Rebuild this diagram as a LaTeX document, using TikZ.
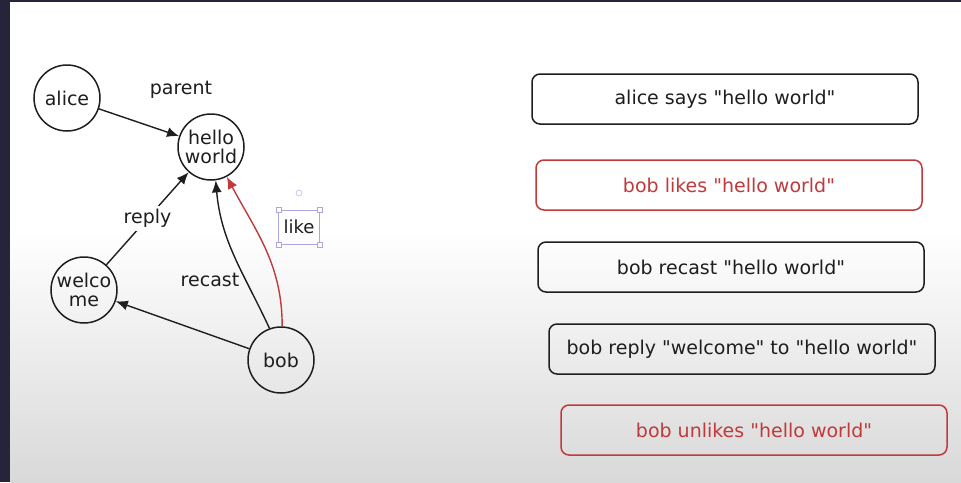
\documentclass[tikz,border=0pt]{standalone}
\usepackage{fontspec}
\setmainfont{DejaVu Sans}[Ligatures=TeXOff]
\usetikzlibrary{arrows.meta}

\definecolor{frame}{HTML}{25243A}
\definecolor{ink}{HTML}{1E1E1E}
\definecolor{likered}{HTML}{C0393B}
\definecolor{handle}{HTML}{A9A6E0}

\begin{document}
\begin{tikzpicture}[x=1pt, y=-1pt,
    post/.style={draw=ink, circle, line width=1.5pt, minimum size=66pt,
        inner sep=0pt, align=center, text=ink, font=\fontsize{19}{19}\selectfont},
    event/.style={draw=ink, rounded corners=8pt, line width=1.5pt,
        minimum width=386pt, minimum height=50pt, text=ink,
        font=\fontsize{19}{20}\selectfont},
    reltext/.style={text=ink, font=\fontsize{19}{20}\selectfont},
    link/.style={-{Latex[length=12pt, width=10pt]}, line width=1.4pt, ink},
    handlebox/.style={draw=handle, fill=white, minimum size=5pt, inner sep=0pt}]
    % background
    \useasboundingbox (0, 0) rectangle (961, 482);
    \fill[white] (0, 0) rectangle (961, 482);
    \shade[top color=white, bottom color=black!15] (10, 230) rectangle (961, 482);
    \fill[frame] (0, 0) rectangle (10, 482);
    \fill[frame] (0, 0) rectangle (961, 2);

    % graph of posts
    \node[post] (alice) at (67, 98) {alice};
    \node[post] (hello) at (211, 147) {hello\\world};
    \node[post] (welcome) at (84, 290) {welco\\me};
    \node[post] (bob) at (281, 360) {bob};
    \node[reltext] (parent) at (181, 90) {parent};
    \node[reltext] (recast-text) at (210, 280) {recast};

    \draw[link] (alice) -- (hello);
    \draw[link] (welcome) -- node[reltext, fill=white] {reply} (hello);
    \draw[link] (bob) -- (welcome);
    \draw[link] (bob.110) to[out=115, in=-85] (hello.-82);
    \draw[link, likered] (bob.88) to[out=90, in=-62] (hello.-62);

    % selected "like" text
    \node[draw=handle, text=ink, minimum width=41pt, minimum height=34pt,
        font=\fontsize{18}{19}\selectfont] (like) at (299, 227) {like};
    \foreach \c in {north west, north east, south west, south east}
        \node[handlebox] at (like.\c) {};
    \node[draw=handle, circle, minimum size=6pt, inner sep=0pt] (rotate)
        at (299, 193) {};

    % events
    \node[event] (says) at (725, 99) {alice says "hello world"};
    \node[event, draw=likered, text=likered] (likes) at (729, 185)
        {bob likes "hello world"};
    \node[event] (recast) at (731, 267) {bob recast "hello world"};
    \node[event] (reply) at (742, 349) {bob reply "welcome" to "hello world"};
    \node[event, draw=likered, text=likered] (unlikes) at (754, 430)
        {bob unlikes "hello world"};
\end{tikzpicture}
\end{document}
